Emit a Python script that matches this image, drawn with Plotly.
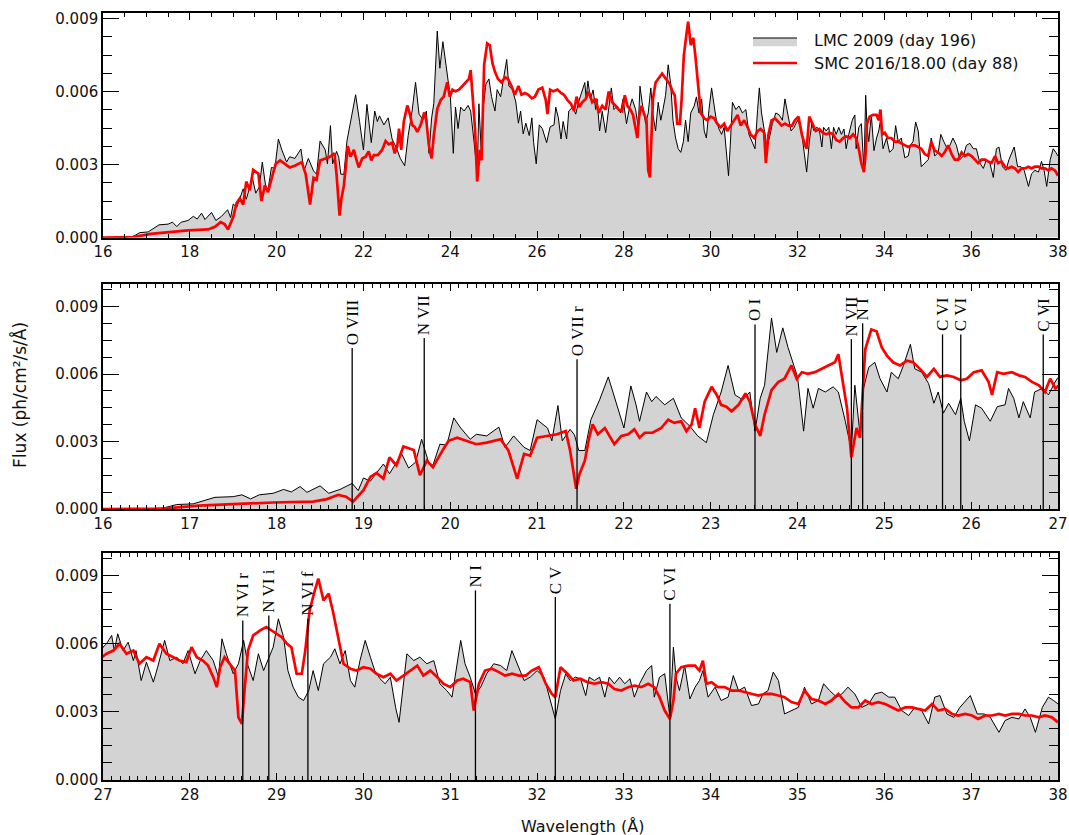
import plotly.graph_objects as go

# ---------------- data (flux in units of 1e-3 ph/cm^2/s/A) ----------------
lmc_wave = [16.0, 16.5, 16.7, 16.85, 17.04, 17.29, 17.5, 17.6, 17.7, 17.8, 17.96, 18.08, 18.17, 18.27, 18.35, 18.5, 18.6, 18.73, 18.87, 18.94,
            19.0, 19.08, 19.15, 19.23, 19.3, 19.38, 19.44, 19.52, 19.6, 19.67, 19.75, 19.8, 19.88, 19.96, 20.04, 20.12, 20.23, 20.3, 20.42, 20.56,
            20.63, 20.73, 20.85, 20.92, 21.0, 21.12, 21.17, 21.24, 21.29, 21.38, 21.43, 21.48, 21.55, 21.62, 21.72, 21.82, 21.91, 22.0, 22.08, 22.14,
            22.18, 22.26, 22.32, 22.37, 22.47, 22.57, 22.66, 22.76, 22.85, 22.95, 23.03, 23.12, 23.2, 23.28, 23.37, 23.45, 23.51, 23.57, 23.62, 23.7,
            23.76, 23.83, 23.89, 23.95, 24.0, 24.07, 24.12, 24.18, 24.24, 24.32, 24.41, 24.47, 24.55, 24.62, 24.66, 24.72, 24.76, 24.82, 24.89, 24.95,
            25.03, 25.08, 25.16, 25.22, 25.3, 25.35, 25.43, 25.51, 25.57, 25.62, 25.68, 25.74, 25.82, 25.88, 25.92, 25.98, 26.05, 26.12, 26.22, 26.3,
            26.39, 26.43, 26.49, 26.55, 26.6, 26.68, 26.73, 26.82, 26.89, 26.96, 27.0, 27.04, 27.1, 27.13, 27.17, 27.23, 27.29, 27.35, 27.38, 27.44,
            27.5, 27.58, 27.63, 27.71, 27.77, 27.85, 27.92, 27.98, 28.06, 28.12, 28.19, 28.27, 28.33, 28.37, 28.42, 28.5, 28.56, 28.62, 28.67, 28.73,
            28.79, 28.85, 28.9, 28.96, 29.02, 29.08, 29.13, 29.19, 29.25, 29.31, 29.37, 29.42, 29.48, 29.54, 29.62, 29.67, 29.73, 29.79, 29.85, 29.9,
            29.96, 30.02, 30.08, 30.13, 30.19, 30.25, 30.31, 30.37, 30.41, 30.45, 30.5, 30.58, 30.65, 30.73, 30.81, 30.88, 30.96, 31.02, 31.08, 31.12,
            31.17, 31.23, 31.29, 31.35, 31.42, 31.5, 31.58, 31.65, 31.71, 31.77, 31.85, 31.92, 32.0, 32.08, 32.15, 32.21, 32.27, 32.33, 32.38, 32.44,
            32.5, 32.56, 32.6, 32.66, 32.72, 32.78, 32.83, 32.89, 32.95, 33.01, 33.07, 33.12, 33.18, 33.26, 33.32, 33.35, 33.41, 33.47, 33.53, 33.57,
            33.6, 33.64, 33.7, 33.76, 33.82, 33.87, 33.91, 33.97, 34.05, 34.12, 34.2, 34.26, 34.32, 34.39, 34.47, 34.55, 34.6, 34.66, 34.72, 34.78,
            34.85, 34.93, 35.01, 35.08, 35.16, 35.24, 35.3, 35.37, 35.45, 35.51, 35.58, 35.66, 35.74, 35.82, 35.89, 35.97, 36.05, 36.12, 36.2, 36.28,
            36.35, 36.43, 36.51, 36.58, 36.64, 36.72, 36.8, 36.87, 36.99, 37.07, 37.15, 37.22, 37.32, 37.39, 37.47, 37.55, 37.62, 37.68, 37.74, 37.82,
            37.89, 37.95, 38.0]
lmc_flux = [0.0, 0.0, 0.05, 0.2, 0.23, 0.52, 0.55, 0.63, 0.45, 0.63, 0.7, 0.87, 0.76, 1.0, 0.74, 1.03, 0.7, 0.87, 1.14, 0.82,
            1.38, 1.24, 1.6, 2.0, 1.57, 2.08, 2.45, 1.82, 2.08, 3.1, 2.08, 1.94, 2.88, 2.84, 4.05, 3.6, 3.1, 3.32, 3.25, 3.64,
            2.74, 3.25, 2.74, 2.6, 3.97, 3.6, 3.03, 4.6, 3.03, 3.54, 3.3, 2.6, 2.6, 3.97, 4.85, 5.87, 4.77, 3.6, 5.47, 4.63,
            3.9, 5.2, 4.77, 5.0, 4.63, 4.92, 4.05, 3.68, 3.25, 2.95, 4.19, 5.2, 6.38, 5.07, 4.85, 5.2, 3.46, 4.92, 5.5, 8.49,
            6.96, 8.05, 7.18, 6.45, 5.87, 3.46, 5.36, 4.48, 5.36, 5.2, 5.43, 5.2, 3.9, 2.6, 5.5, 3.3, 5.36, 6.3, 6.52, 5.79,
            5.2, 6.08, 5.79, 6.38, 7.32, 6.23, 6.08, 5.57, 4.7, 5.2, 4.26, 4.7, 4.19, 4.92, 3.9, 3.03, 4.63, 4.48, 3.9, 4.55,
            4.63, 5.36, 4.92, 4.05, 4.77, 4.05, 5.2, 5.36, 5.07, 5.6, 5.85, 6.0, 6.37, 5.7, 6.44, 5.7, 6.07, 5.26, 5.7, 4.38,
            5.19, 4.31, 4.97, 6.15, 5.26, 5.41, 5.12, 5.7, 4.68, 5.26, 5.7, 5.26, 4.53, 6.22, 5.56, 4.68, 5.12, 6.15, 5.04, 4.38,
            5.56, 4.82, 5.26, 5.85, 7.1, 6.29, 4.82, 4.09, 3.65, 3.5, 3.94, 4.82, 3.94, 5.12, 5.41, 5.78, 5.12, 5.7, 4.38, 4.09,
            5.26, 6.15, 5.41, 4.82, 4.46, 4.24, 4.53, 3.2, 2.54, 3.79, 5.56, 5.26, 5.41, 5.12, 5.26, 4.24, 3.94, 3.65, 5.26, 6.15,
            5.12, 4.53, 3.79, 4.09, 4.68, 5.12, 5.04, 4.82, 5.7, 5.12, 4.38, 4.53, 4.82, 4.53, 3.5, 2.69, 3.94, 4.68, 4.38, 4.53,
            4.46, 3.72, 4.53, 4.38, 4.53, 3.65, 4.53, 4.24, 4.53, 4.24, 4.46, 3.65, 4.24, 4.82, 5.04, 3.65, 4.53, 4.68, 2.76, 5.85,
            4.53, 3.94, 5.04, 3.57, 4.09, 4.38, 4.82, 3.65, 4.09, 3.5, 3.65, 4.6, 3.94, 4.09, 3.28, 3.35, 3.79, 3.94, 4.75, 4.38,
            2.91, 3.06, 3.2, 4.09, 3.35, 3.5, 4.24, 3.94, 3.65, 3.79, 4.09, 3.79, 3.2, 3.35, 3.79, 3.87, 3.65, 3.65, 3.06, 2.84,
            3.2, 3.06, 2.47, 3.65, 3.72, 2.91, 2.76, 3.2, 3.72, 2.91, 2.91, 2.76, 2.1, 2.62, 2.76, 2.69, 3.13, 2.76, 2.1, 3.2,
            3.65, 3.5, 3.35]

smc_wave = [16.0, 16.7, 17.1, 17.5, 17.96, 18.42, 18.58, 18.71, 18.8, 18.88, 19.0, 19.08, 19.15, 19.23, 19.3, 19.38, 19.46, 19.58, 19.65, 19.73,
            19.8, 19.92, 19.98, 20.08, 20.19, 20.3, 20.42, 20.58, 20.67, 20.77, 20.85, 20.92, 21.0, 21.12, 21.23, 21.33, 21.38, 21.45, 21.49, 21.55,
            21.6, 21.64, 21.7, 21.78, 21.83, 21.89, 21.97, 22.05, 22.12, 22.18, 22.24, 22.33, 22.43, 22.51, 22.58, 22.66, 22.72, 22.78, 22.82, 22.87,
            22.93, 23.01, 23.07, 23.12, 23.18, 23.24, 23.32, 23.4, 23.45, 23.51, 23.57, 23.62, 23.7, 23.78, 23.85, 23.93, 23.99, 24.05, 24.12, 24.2,
            24.28, 24.35, 24.43, 24.47, 24.51, 24.57, 24.62, 24.68, 24.72, 24.78, 24.85, 24.91, 24.97, 25.03, 25.1, 25.18, 25.26, 25.33, 25.41, 25.49,
            25.57, 25.64, 25.72, 25.8, 25.88, 25.95, 26.03, 26.12, 26.2, 26.24, 26.3, 26.37, 26.47, 26.55, 26.62, 26.7, 26.78, 26.85, 26.91, 26.97,
            27.04, 27.12, 27.19, 27.27, 27.35, 27.42, 27.5, 27.58, 27.65, 27.73, 27.81, 27.88, 27.96, 28.02, 28.08, 28.15, 28.21, 28.27, 28.31, 28.35,
            28.4, 28.46, 28.52, 28.56, 28.6, 28.63, 28.67, 28.73, 28.81, 28.88, 28.94, 29.0, 29.06, 29.12, 29.17, 29.23, 29.29, 29.33, 29.38, 29.44,
            29.48, 29.54, 29.6, 29.65, 29.71, 29.77, 29.85, 29.92, 30.0, 30.08, 30.15, 30.23, 30.31, 30.38, 30.46, 30.54, 30.62, 30.69, 30.77, 30.85,
            30.92, 31.0, 31.08, 31.15, 31.23, 31.27, 31.33, 31.4, 31.48, 31.56, 31.63, 31.71, 31.79, 31.87, 31.94, 32.02, 32.1, 32.17, 32.21, 32.27,
            32.35, 32.42, 32.5, 32.58, 32.66, 32.74, 32.82, 32.89, 32.97, 33.05, 33.12, 33.2, 33.28, 33.35, 33.41, 33.47, 33.53, 33.57, 33.6, 33.66,
            33.74, 33.82, 33.87, 33.91, 33.95, 34.01, 34.08, 34.16, 34.24, 34.32, 34.39, 34.47, 34.55, 34.62, 34.7, 34.78, 34.85, 34.93, 35.01, 35.08,
            35.16, 35.24, 35.32, 35.39, 35.47, 35.55, 35.62, 35.7, 35.78, 35.85, 35.93, 36.01, 36.08, 36.16, 36.24, 36.32, 36.39, 36.47, 36.55, 36.62,
            36.7, 36.78, 36.85, 36.93, 37.01, 37.08, 37.16, 37.24, 37.32, 37.39, 37.47, 37.55, 37.62, 37.7, 37.78, 37.85, 37.93, 38.0]
smc_flux = [0.0, 0.02, 0.15, 0.22, 0.29, 0.33, 0.44, 0.63, 0.55, 0.33, 0.84, 1.43, 1.6, 1.35, 2.3, 1.94, 2.78, 2.62, 1.5, 2.15,
            1.86, 2.66, 3.03, 3.17, 3.03, 2.88, 2.95, 3.1, 2.6, 1.35, 2.45, 2.37, 3.17, 3.25, 3.32, 3.46, 2.6, 0.9, 1.57, 2.15,
            3.17, 3.76, 3.32, 3.6, 3.25, 2.88, 3.25, 3.32, 3.54, 3.17, 3.39, 3.39, 3.6, 3.97, 3.83, 3.9, 3.46, 3.76, 4.48, 3.6,
            4.77, 5.43, 5.07, 4.63, 4.55, 4.34, 4.63, 5.14, 4.77, 3.76, 3.25, 4.19, 5.28, 5.65, 5.79, 6.38, 5.79, 6.08, 6.01, 6.08,
            6.23, 6.38, 6.52, 6.88, 5.94, 4.48, 2.3, 3.6, 3.17, 7.1, 7.98, 7.9, 7.18, 6.81, 6.52, 6.38, 6.59, 6.52, 6.23, 5.87,
            6.23, 5.87, 5.94, 5.87, 5.72, 5.79, 6.08, 6.16, 5.65, 5.07, 6.08, 6.01, 6.08, 5.94, 5.87, 5.65, 5.5, 5.2, 5.79, 5.36,
            5.56, 5.7, 6.0, 5.56, 5.7, 5.12, 5.41, 5.26, 6.0, 5.56, 5.41, 5.26, 5.19, 5.85, 5.41, 5.26, 5.04, 4.53, 4.09, 4.97,
            5.41, 5.12, 4.82, 2.76, 2.47, 3.94, 5.7, 6.37, 6.59, 6.74, 6.59, 6.44, 6.29, 6.0, 5.85, 4.68, 4.68, 5.7, 7.47, 8.35,
            8.87, 7.91, 8.21, 7.4, 6.29, 5.12, 4.9, 4.82, 4.97, 4.9, 4.68, 4.53, 4.68, 4.38, 4.6, 4.82, 5.04, 4.6, 4.82, 4.53,
            4.24, 4.09, 4.38, 4.46, 4.31, 3.06, 4.24, 4.82, 4.9, 4.75, 4.6, 4.68, 4.6, 4.6, 4.82, 4.97, 4.24, 3.79, 3.65, 4.97,
            4.68, 4.38, 4.46, 4.31, 4.24, 4.31, 4.24, 4.01, 3.94, 4.09, 4.16, 4.09, 4.24, 4.09, 3.65, 3.06, 2.69, 3.5, 4.68, 4.97,
            5.04, 5.04, 4.82, 5.26, 4.24, 4.31, 4.09, 4.09, 3.94, 3.94, 3.87, 3.79, 3.72, 3.79, 3.79, 3.72, 3.65, 3.43, 3.35, 3.94,
            3.57, 3.5, 3.35, 3.5, 3.79, 3.43, 3.2, 3.2, 3.5, 3.35, 3.43, 3.35, 3.2, 3.06, 3.2, 3.2, 3.13, 3.06, 3.35, 3.06,
            3.13, 2.91, 2.84, 2.91, 2.84, 2.69, 2.84, 2.84, 2.91, 2.84, 2.91, 2.91, 2.84, 2.84, 2.76, 2.84, 2.76, 2.54]

# line identifications: (label, wavelength, top of marker in 1e-3 flux units)
p2_line_names = ["O VIII", "N VII", "O VII r", "O I", "N VII", "N I", "C VI", "C VI", "C VI"]
p2_line_waves = [18.87, 19.70, 21.46, 23.51, 24.62, 24.75, 25.67, 25.88, 26.83]
p2_line_tops = [7.15, 7.6, 6.66, 8.2, 7.55, 8.25, 7.76, 7.76, 7.76]

p3_line_names = ["N VI r", "N VI i", "N VI f", "N I", "C V", "C VI"]
p3_line_waves = [28.61, 28.91, 29.36, 31.29, 32.21, 33.53]
p3_line_tops = [7.03, 7.25, 7.1, 8.35, 8.06, 7.76]

legend_names = ["LMC 2009 (day 196)", "SMC 2016/18.00 (day 88)"]

x_ranges = [[16, 38], [16, 27], [27, 38]]
x_dticks = [2, 1, 1]
x_minor = [0.5, 0.1, 0.1]
y_tops = [0.00923, 0.01, 0.01]
domains = [[0.7073, 1.0], [0.3533, 0.6467], [0.0, 0.296]]

SCALE = 1e-3
lmc_y = [v * SCALE for v in lmc_flux]
smc_y = [v * SCALE for v in smc_flux]

TICKFONT = dict(family="DejaVu Sans", size=15, color="#111")
LEGFONT = dict(family="DejaVu Sans", size=16, color="#111")

fig = go.Figure()
for i in range(3):
    xa = "x" if i == 0 else f"x{i+1}"
    ya = "y" if i == 0 else f"y{i+1}"
    fig.add_trace(go.Scatter(x=lmc_wave, y=lmc_y, mode="lines", xaxis=xa, yaxis=ya,
                             line=dict(color="black", width=1), fill="tozeroy",
                             fillcolor="#d3d3d3", showlegend=False, hoverinfo="skip"))
    fig.add_trace(go.Scatter(x=smc_wave, y=smc_y, mode="lines", xaxis=xa, yaxis=ya,
                             line=dict(color="#ff0000", width=2.7), showlegend=False,
                             hoverinfo="skip"))

annotations = []


def add_marks(names, waves, tops, xa, ya):
    xs, ys = [], []
    for n, w, t in zip(names, waves, tops):
        xs += [w, w, None]
        ys += [0, t * SCALE, None]
        annotations.append(dict(x=w, y=t * SCALE, xref=xa, yref=ya, text=n, showarrow=False,
                                textangle=-90, xanchor="center", yanchor="bottom", yshift=1,
                                font=dict(family="Liberation Serif", size=17, color="black")))
    fig.add_trace(go.Scatter(x=xs, y=ys, mode="lines", xaxis=xa, yaxis=ya,
                             line=dict(color="black", width=1.3), showlegend=False,
                             hoverinfo="skip"))


add_marks(p2_line_names, p2_line_waves, p2_line_tops, "x2", "y2")
add_marks(p3_line_names, p3_line_waves, p3_line_tops, "x3", "y3")

layout = dict(width=1069, height=835, plot_bgcolor="white", paper_bgcolor="white",
              margin=dict(l=103, r=11, t=13, b=55, autoexpand=False), showlegend=False)
for i in range(3):
    xk = "xaxis" if i == 0 else f"xaxis{i+1}"
    yk = "yaxis" if i == 0 else f"yaxis{i+1}"
    ya = "y" if i == 0 else f"y{i+1}"
    xa = "x" if i == 0 else f"x{i+1}"
    layout[xk] = dict(range=x_ranges[i], domain=[0, 1], anchor=ya, showline=True, linecolor="black",
                      linewidth=1.5, mirror="ticks", ticks="inside", ticklen=7, tickwidth=1.2,
                      tickcolor="black", dtick=x_dticks[i], tick0=x_ranges[i][0], showgrid=False,
                      zeroline=False, tickfont=TICKFONT,
                      minor=dict(dtick=x_minor[i], ticklen=4, tickwidth=1, tickcolor="black",
                                 ticks="inside", showgrid=False))
    layout[yk] = dict(range=[0, y_tops[i]], domain=domains[i], anchor=xa, showline=True,
                      linecolor="black", linewidth=1.5, mirror="ticks", ticks="inside", ticklen=16,
                      tickwidth=1.2, tickcolor="black", dtick=0.003, tick0=0, tickformat=".3f",
                      showgrid=False, zeroline=False, tickfont=TICKFONT,
                      minor=dict(dtick=0.00075, ticklen=9, tickwidth=1, tickcolor="black",
                                 ticks="inside", showgrid=False))

# legend (drawn manually, panel 1 upper right)
shapes = [
    dict(type="rect", xref="paper", yref="paper", x0=0.6806, x1=0.7267, y0=0.9565, y1=0.9674,
         fillcolor="#d3d3d3", line=dict(width=0)),
    dict(type="line", xref="paper", yref="paper", x0=0.6806, x1=0.7267, y0=0.9674, y1=0.9674,
         line=dict(color="black", width=1.2)),
    dict(type="line", xref="paper", yref="paper", x0=0.6806, x1=0.7267, y0=0.9348, y1=0.9348,
         line=dict(color="#ff0000", width=2.5)),
]
annotations.append(dict(x=0.7424, y=0.9640, xref="paper", yref="paper", text=legend_names[0],
                        showarrow=False, xanchor="left", yanchor="middle", font=LEGFONT))
annotations.append(dict(x=0.7424, y=0.9348, xref="paper", yref="paper", text=legend_names[1],
                        showarrow=False, xanchor="left", yanchor="middle", font=LEGFONT))
annotations.append(dict(x=-0.087, y=0.502, xref="paper", yref="paper", text="Flux (ph/cm²/s/Å)",
                        showarrow=False, textangle=-90, xanchor="center", yanchor="middle",
                        font=dict(family="DejaVu Sans", size=17, color="#111")))
annotations.append(dict(x=0.5026, y=-0.060, xref="paper", yref="paper", text="Wavelength (Å)",
                        showarrow=False, xanchor="center", yanchor="middle",
                        font=dict(family="DejaVu Sans", size=16, color="#111")))

layout["shapes"] = shapes
layout["annotations"] = annotations
fig.update_layout(**layout)
fig.write_html("out.html", config={"displayModeBar": False},
               post_script="document.body.style.margin='0px';")
